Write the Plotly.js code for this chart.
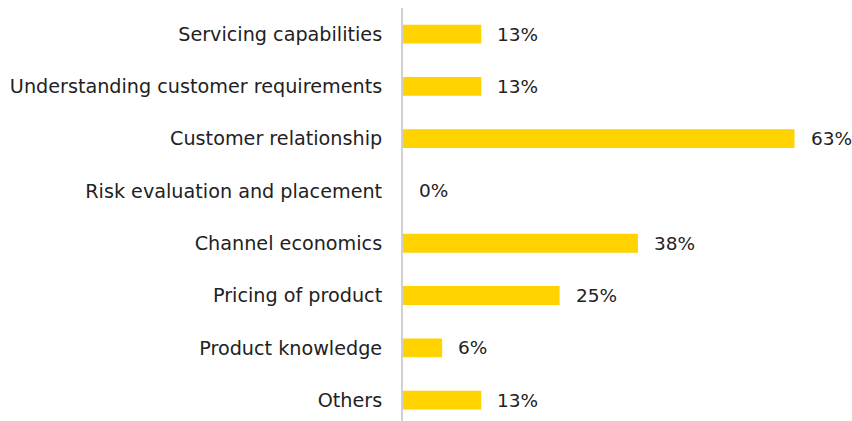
<!DOCTYPE html>
<html>
<head>
<meta charset="utf-8">
<script src="https://cdn.plot.ly/plotly-3.0.1.min.js"></script>
<style>html,body{margin:0;padding:0;background:#fff;}#chart{width:852px;height:421px;}</style>
</head>
<body>
<div id="chart"></div>
<script>
const categories = [
  "Servicing capabilities",
  "Understanding customer requirements",
  "Customer relationship",
  "Risk evaluation and placement",
  "Channel economics",
  "Pricing of product",
  "Product knowledge",
  "Others"
];
const values = [12.5, 12.5, 62.5, 0, 37.5, 25, 6.25, 12.5];
const valueLabels = ["13%", "13%", "63%", "0%", "38%", "25%", "6%", "13%"];

const FONT = "'DejaVu Sans', sans-serif";

const trace = {
  type: "bar",
  orientation: "h",
  y: categories,
  x: values,
  width: 0.36,
  marker: {color: "#ffd200"},
  hoverinfo: "none"
};

const annotations = categories.map((c, i) => ({
  x: values[i], y: c, xref: "x", yref: "y",
  text: valueLabels[i], showarrow: false,
  xanchor: "left", xshift: 14,
  font: {family: FONT, size: 18.5, color: "#222"}
}));

const layout = {
  width: 852, height: 421,
  margin: {l: 403, r: 0, t: 8, b: 0},
  paper_bgcolor: "#fff", plot_bgcolor: "#fff",
  showlegend: false,
  xaxis: {range: [0, 71.68], showgrid: false, zeroline: false, showticklabels: false, showline: false, fixedrange: true},
  yaxis: {
    type: "category", range: [7.4, -0.5],
    showgrid: false, zeroline: false,
    showline: true, linecolor: "#d0d0d0", linewidth: 2,
    ticks: "outside", ticklen: 15, tickcolor: "rgba(0,0,0,0)",
    tickfont: {family: FONT, size: 19.2, color: "#222"},
    fixedrange: true
  },
  annotations: annotations,
  font: {family: FONT}
};

Plotly.newPlot("chart", [trace], layout, {displayModeBar: false, staticPlot: true});
</script>
</body>
</html>
